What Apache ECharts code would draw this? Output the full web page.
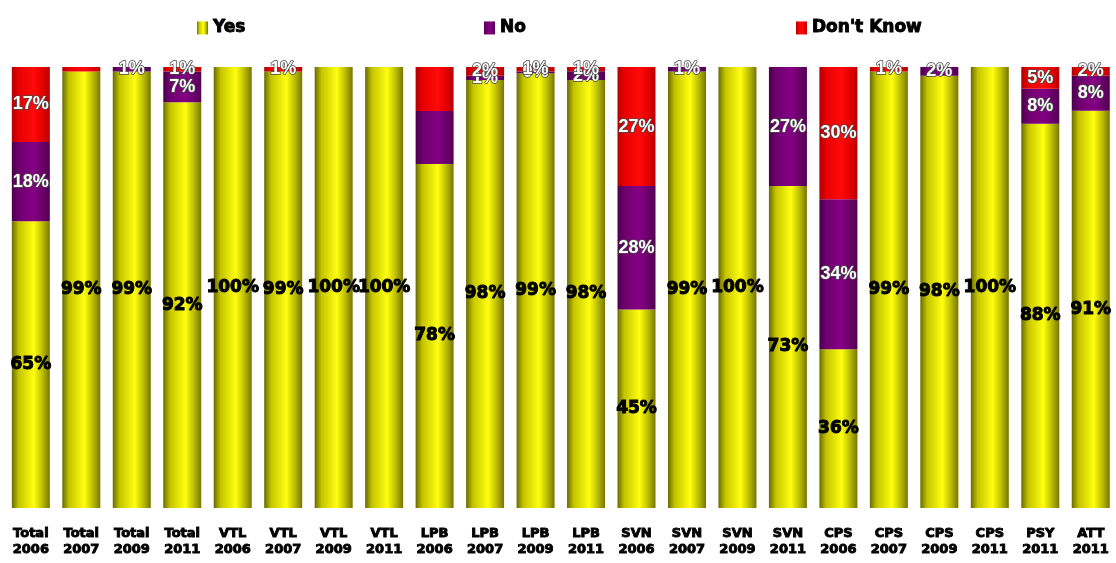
<!DOCTYPE html>
<html>
<head>
<meta charset="utf-8">
<script src="https://cdn.jsdelivr.net/npm/echarts@6/dist/echarts.min.js"></script>
<style>
  html, body { margin: 0; padding: 0; background: #fff; }
  #chart { width: 1116px; height: 563px; }
</style>
</head>
<body>
<div id="chart"></div>
<script>
// Survey groups and years
const categories = [
  'Total 2006', 'Total 2007', 'Total 2009', 'Total 2011',
  'VTL 2006', 'VTL 2007', 'VTL 2009', 'VTL 2011',
  'LPB 2006', 'LPB 2007', 'LPB 2009', 'LPB 2011',
  'SVN 2006', 'SVN 2007', 'SVN 2009', 'SVN 2011',
  'CPS 2006', 'CPS 2007', 'CPS 2009', 'CPS 2011',
  'PSY 2011', 'ATT 2011'
];

// Answer shares in percent
const yesValues  = [65, 99, 99, 92, 100, 99, 100, 100, 78, 98, 99, 98, 45, 99, 100, 73, 36, 99, 98, 100, 88, 91];
const noValues   = [18, 0, 1, 7, 0, 0, 0, 0, 12, 1, 0.4, 2, 28, 1, 0, 27, 34, 0, 2, 0, 8, 8];
const dkValues   = [17, 1, 0, 1, 0, 1, 0, 0, 10, 2, 1, 1, 27, 0, 0, 0, 30, 1, 0, 0, 5, 2];

// Segments whose value label is left off
const hiddenLabels = ['Total 2007|dk', 'LPB 2006|no', 'LPB 2006|dk'];

const totals = categories.map((_, i) => yesValues[i] + noValues[i] + dkValues[i]);

function shares(values, key) {
  return values.map((v, i) => ({
    value: v / totals[i] * 100,
    raw: v,
    label: { show: v > 0 && hiddenLabels.indexOf(categories[i] + '|' + key) < 0 }
  }));
}

function cylinder(edgeL, mid, hi, edgeR) {
  return new echarts.graphic.LinearGradient(0, 0, 1, 0, [
    { offset: 0, color: edgeL },
    { offset: 0.18, color: mid },
    { offset: 0.58, color: hi },
    { offset: 0.78, color: mid },
    { offset: 1, color: edgeR }
  ]);
}

const yellowFill = cylinder('#6a6a00', '#c4c400', '#ffff10', '#767600');
const purpleFill = cylinder('#4a004a', '#6e006e', '#850085', '#520052');
const redFill    = cylinder('#b00000', '#e80000', '#ff0a0a', '#b80000');

const rawFormatter = p => Math.round(p.data.raw) + '%';

const whiteLabel = {
  position: 'inside',
  color: '#ffffff',
  fontFamily: 'Liberation Sans',
  fontWeight: 'bold',
  fontSize: 18,
  textBorderColor: '#4a4a4a',
  textBorderWidth: 1.5,
  formatter: rawFormatter
};

// Heavy black lettering: bold face plus a thin stroke of the same colour
const heavyText = {
  fontFamily: 'DejaVu Sans',
  fontWeight: 'bold',
  color: '#000',
  textBorderColor: '#000',
  textBorderWidth: 0.9
};

const legendText = Object.assign({}, heavyText, { fontSize: 17 });

function legendAt(name, left) {
  return {
    data: [name], left: left, top: 14, icon: 'rect',
    itemWidth: 11, itemHeight: 13, itemGap: 5, textStyle: legendText
  };
}

const chart = echarts.init(document.getElementById('chart'), null, { renderer: 'canvas' });

chart.setOption({
  animation: false,
  backgroundColor: '#ffffff',
  legend: [
    legendAt('Yes', 192),
    legendAt('No', 479),
    legendAt("Don't Know", 791)
  ],
  grid: { left: 5.6, top: 67, width: 1115.4, height: 441, containLabel: false },
  xAxis: {
    type: 'category',
    data: categories,
    axisLine: { show: false },
    axisTick: { show: false },
    axisLabel: Object.assign({}, heavyText, {
      interval: 0,
      margin: 18,
      fontSize: 13,
      lineHeight: 16,
      formatter: v => v.replace(' ', '\n')
    })
  },
  yAxis: {
    type: 'value',
    min: 0,
    max: 100,
    show: false,
    splitLine: { show: false }
  },
  series: [
    {
      name: 'Yes',
      type: 'bar',
      stack: 'share',
      barWidth: 38,
      data: shares(yesValues, 'yes'),
      itemStyle: { color: yellowFill },
      label: Object.assign({}, heavyText, {
        position: 'inside',
        fontSize: 17,
        textBorderWidth: 1,
        formatter: rawFormatter
      })
    },
    {
      name: 'No',
      type: 'bar',
      stack: 'share',
      barWidth: 38,
      data: shares(noValues, 'no'),
      itemStyle: { color: purpleFill },
      label: whiteLabel
    },
    {
      name: "Don't Know",
      type: 'bar',
      stack: 'share',
      barWidth: 38,
      data: shares(dkValues, 'dk'),
      itemStyle: { color: redFill },
      label: whiteLabel
    }
  ]
});
</script>
</body>
</html>
